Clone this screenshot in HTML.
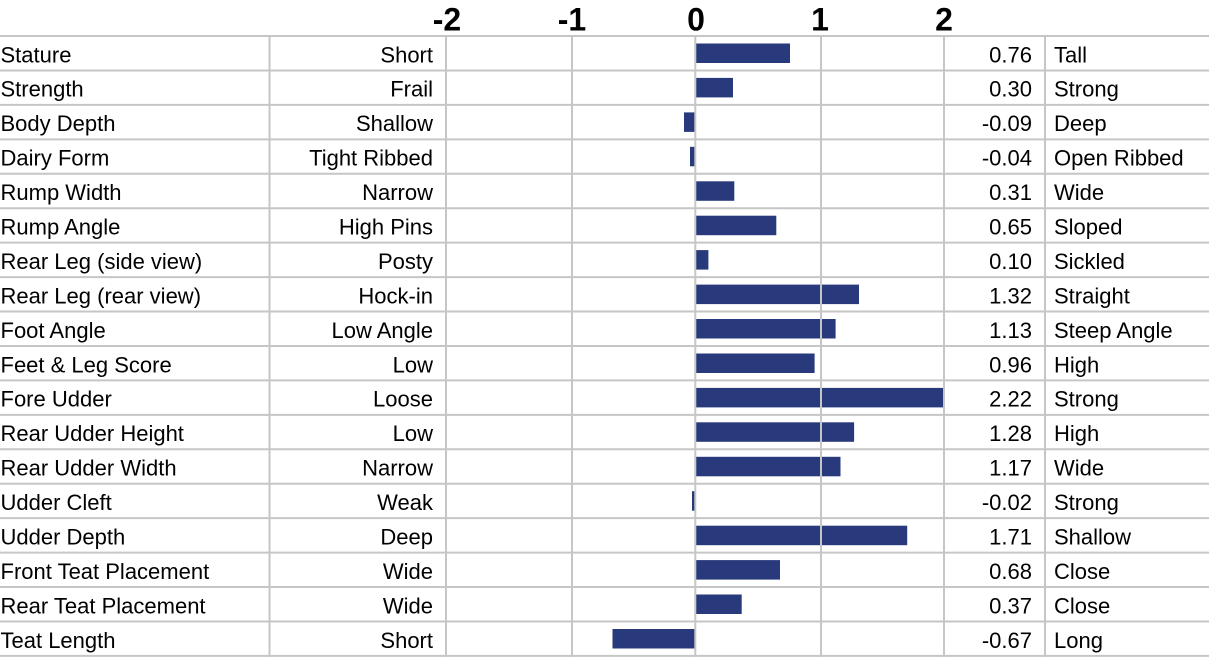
<!DOCTYPE html>
<html>
<head>
<meta charset="utf-8">
<style>
html,body{margin:0;padding:0;background:#fff;}
svg{display:block;}
text{font-family:"Liberation Sans",Arial,sans-serif;fill:#000;}
.t{font-size:22px;}
</style>
</head>
<body>
<svg width="1211" height="662" viewBox="0 0 1211 662" xmlns="http://www.w3.org/2000/svg">
<rect width="1211" height="662" fill="#fff"/>

<!-- header tick labels -->
<g font-size="32" font-weight="bold" text-anchor="middle">
<text x="447" y="30.5">-2</text>
<text x="572" y="30.5">-1</text>
<text x="696" y="30.5">0</text>
<text x="820" y="30.5">1</text>
<text x="944" y="30.5">2</text>
</g>

<!-- bars -->
<g fill="#293a7c">
<rect x="696" y="43.5" width="94" height="19.5"/>
<rect x="696" y="77.9" width="37" height="19.5"/>
<rect x="684" y="112.4" width="11" height="19.5"/>
<rect x="690" y="146.8" width="5" height="19.5"/>
<rect x="696" y="181.3" width="38.3" height="19.5"/>
<rect x="696" y="215.7" width="80.3" height="19.5"/>
<rect x="696" y="250.1" width="12.4" height="19.5"/>
<rect x="696" y="284.6" width="163" height="19.5"/>
<rect x="696" y="319.0" width="139.6" height="19.5"/>
<rect x="696" y="353.5" width="118.6" height="19.5"/>
<rect x="696" y="387.9" width="248" height="19.5"/>
<rect x="696" y="422.3" width="158.1" height="19.5"/>
<rect x="696" y="456.8" width="144.5" height="19.5"/>
<rect x="692" y="491.2" width="3" height="19.5"/>
<rect x="696" y="525.7" width="211.2" height="19.5"/>
<rect x="696" y="560.1" width="84" height="19.5"/>
<rect x="696" y="594.5" width="45.7" height="19.5"/>
<rect x="612.5" y="629.0" width="82.5" height="19.5"/>
</g>

<!-- horizontal lines -->
<g stroke="#c6c6c6" stroke-width="2">
<line x1="0" y1="36" x2="1209" y2="36"/>
<line x1="0" y1="70.44" x2="1209" y2="70.44"/>
<line x1="0" y1="104.88" x2="1209" y2="104.88"/>
<line x1="0" y1="139.32" x2="1209" y2="139.32"/>
<line x1="0" y1="173.76" x2="1209" y2="173.76"/>
<line x1="0" y1="208.2" x2="1209" y2="208.2"/>
<line x1="0" y1="242.64" x2="1209" y2="242.64"/>
<line x1="0" y1="277.08" x2="1209" y2="277.08"/>
<line x1="0" y1="311.52" x2="1209" y2="311.52"/>
<line x1="0" y1="345.96" x2="1209" y2="345.96"/>
<line x1="0" y1="380.4" x2="1209" y2="380.4"/>
<line x1="0" y1="414.84" x2="1209" y2="414.84"/>
<line x1="0" y1="449.28" x2="1209" y2="449.28"/>
<line x1="0" y1="483.72" x2="1209" y2="483.72"/>
<line x1="0" y1="518.16" x2="1209" y2="518.16"/>
<line x1="0" y1="552.6" x2="1209" y2="552.6"/>
<line x1="0" y1="587.04" x2="1209" y2="587.04"/>
<line x1="0" y1="621.48" x2="1209" y2="621.48"/>
<line x1="0" y1="655.92" x2="1209" y2="655.92"/>
</g>

<!-- vertical lines -->
<g stroke="#c6c6c6" stroke-width="2">
<line x1="269.5" y1="35" x2="269.5" y2="657"/>
<line x1="446" y1="35" x2="446" y2="657"/>
<line x1="572" y1="35" x2="572" y2="657"/>
<line x1="695.3" y1="35" x2="695.3" y2="657"/>
<line x1="821" y1="35" x2="821" y2="657"/>
<line x1="944" y1="35" x2="944" y2="657"/>
<line x1="1045" y1="35" x2="1045" y2="657"/>
</g>

<!-- column 1: trait names -->
<g class="t">
<text x="0.5" y="62.3">Stature</text>
<text x="0.5" y="96.7">Strength</text>
<text x="0.5" y="131.2">Body Depth</text>
<text x="0.5" y="165.6">Dairy Form</text>
<text x="0.5" y="200.1">Rump Width</text>
<text x="0.5" y="234.5">Rump Angle</text>
<text x="0.5" y="268.9">Rear Leg (side view)</text>
<text x="0.5" y="303.4">Rear Leg (rear view)</text>
<text x="0.5" y="337.8">Foot Angle</text>
<text x="0.5" y="372.3">Feet &amp; Leg Score</text>
<text x="0.5" y="406.7">Fore Udder</text>
<text x="0.5" y="441.1">Rear Udder Height</text>
<text x="0.5" y="475.6">Rear Udder Width</text>
<text x="0.5" y="510.0">Udder Cleft</text>
<text x="0.5" y="544.5">Udder Depth</text>
<text x="0.5" y="578.9">Front Teat Placement</text>
<text x="0.5" y="613.3">Rear Teat Placement</text>
<text x="0.5" y="647.8">Teat Length</text>
</g>

<!-- column 2: low descriptors -->
<g class="t" text-anchor="end">
<text x="433" y="62.3">Short</text>
<text x="433" y="96.7">Frail</text>
<text x="433" y="131.2">Shallow</text>
<text x="433" y="165.6">Tight Ribbed</text>
<text x="433" y="200.1">Narrow</text>
<text x="433" y="234.5">High Pins</text>
<text x="433" y="268.9">Posty</text>
<text x="433" y="303.4">Hock-in</text>
<text x="433" y="337.8">Low Angle</text>
<text x="433" y="372.3">Low</text>
<text x="433" y="406.7">Loose</text>
<text x="433" y="441.1">Low</text>
<text x="433" y="475.6">Narrow</text>
<text x="433" y="510.0">Weak</text>
<text x="433" y="544.5">Deep</text>
<text x="433" y="578.9">Wide</text>
<text x="433" y="613.3">Wide</text>
<text x="433" y="647.8">Short</text>
</g>

<!-- column 4: values -->
<g class="t" text-anchor="end">
<text x="1032" y="62.3">0.76</text>
<text x="1032" y="96.7">0.30</text>
<text x="1032" y="131.2">-0.09</text>
<text x="1032" y="165.6">-0.04</text>
<text x="1032" y="200.1">0.31</text>
<text x="1032" y="234.5">0.65</text>
<text x="1032" y="268.9">0.10</text>
<text x="1032" y="303.4">1.32</text>
<text x="1032" y="337.8">1.13</text>
<text x="1032" y="372.3">0.96</text>
<text x="1032" y="406.7">2.22</text>
<text x="1032" y="441.1">1.28</text>
<text x="1032" y="475.6">1.17</text>
<text x="1032" y="510.0">-0.02</text>
<text x="1032" y="544.5">1.71</text>
<text x="1032" y="578.9">0.68</text>
<text x="1032" y="613.3">0.37</text>
<text x="1032" y="647.8">-0.67</text>
</g>

<!-- column 5: high descriptors -->
<g class="t">
<text x="1054" y="62.3">Tall</text>
<text x="1054" y="96.7">Strong</text>
<text x="1054" y="131.2">Deep</text>
<text x="1054" y="165.6">Open Ribbed</text>
<text x="1054" y="200.1">Wide</text>
<text x="1054" y="234.5">Sloped</text>
<text x="1054" y="268.9">Sickled</text>
<text x="1054" y="303.4">Straight</text>
<text x="1054" y="337.8">Steep Angle</text>
<text x="1054" y="372.3">High</text>
<text x="1054" y="406.7">Strong</text>
<text x="1054" y="441.1">High</text>
<text x="1054" y="475.6">Wide</text>
<text x="1054" y="510.0">Strong</text>
<text x="1054" y="544.5">Shallow</text>
<text x="1054" y="578.9">Close</text>
<text x="1054" y="613.3">Close</text>
<text x="1054" y="647.8">Long</text>
</g>
</svg>
</body>
</html>
